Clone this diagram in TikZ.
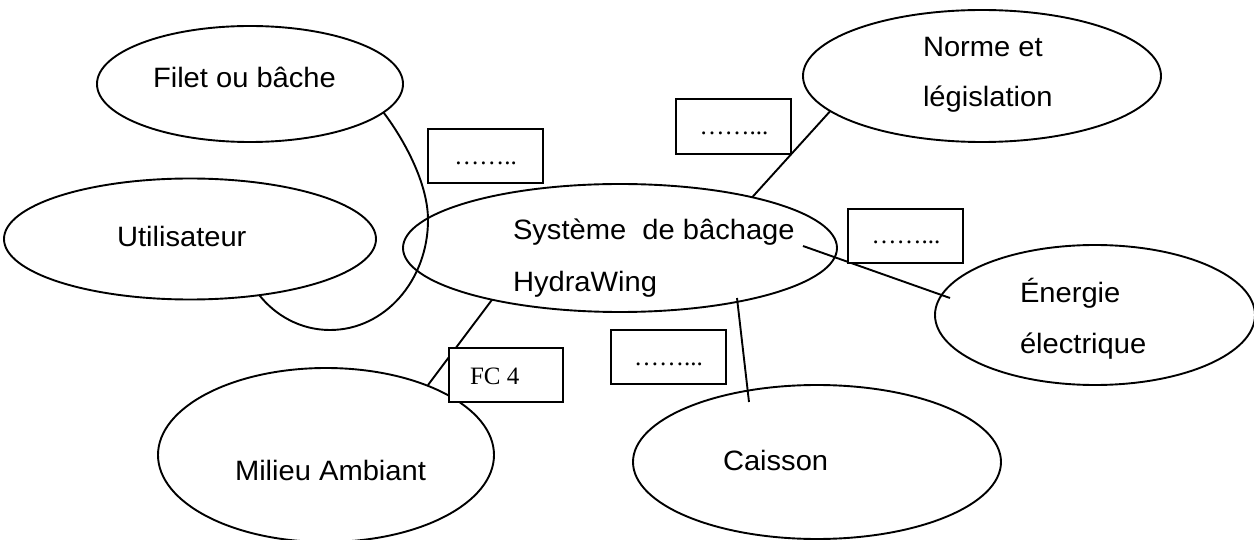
\documentclass[tikz,border=0pt]{standalone}
\usepackage{fontspec}
\setmainfont{Liberation Sans}[FakeStretch=1.04]
\newfontfamily\tms{Liberation Serif}
\usetikzlibrary{shapes.geometric}
\begin{document}
\begin{tikzpicture}[x=1pt,y=-1pt,
  every node/.style={inner sep=0pt, outer sep=0pt},
  oval/.style={draw, ellipse, line width=1.9pt},
  lbl/.style={anchor=base west, font=\fontsize{28}{32}\selectfont},
  box/.style={draw, rectangle, fill=white, line width=1.9pt},
  dotstxt/.style={anchor=base, font=\tms\fontsize{25}{30}\selectfont},
  link/.style={line width=1.9pt}]
\useasboundingbox (0,0) rectangle (1254,540);

% ellipses
\node[oval, minimum width=306pt, minimum height=116pt] (filet) at (250,84) {};
\node[oval, minimum width=372pt, minimum height=121pt] (util) at (190,239) {};
\node[oval, minimum width=434pt, minimum height=128pt] (sys) at (620,248) {};
\node[oval, minimum width=358pt, minimum height=132pt] (norme) at (982,76) {};
\node[oval, minimum width=320pt, minimum height=140pt] (ener) at (1095,315) {};
\node[oval, minimum width=368pt, minimum height=154pt] (caisson) at (817,462) {};
\node[oval, minimum width=336pt, minimum height=174pt] (milieu) at (326,455) {};

% texts
\node[lbl] (filett) at (153,88) {Filet ou bâche};
\node[lbl] (utilt) at (117,247) {Utilisateur};
\node[lbl] (syst1) at (513,240) {Système~ de bâchage};
\node[lbl] (syst2) at (513,292) {HydraWing};
\node[lbl] (normet1) at (923,57) {Norme et};
\node[lbl] (normet2) at (923,107) {législation};
\node[lbl] (enert1) at (1020,303) {Énergie};
\node[lbl] (enert2) at (1020,353) {électrique};
\node[lbl] (caissont) at (723,470) {Caisson};
\node[lbl] (milieut) at (235,480) {Milieu Ambiant};

% connectors
\draw[link] (filet.-12) .. controls (400,134) and (428,180) .. (428,220)
  .. controls (428,280) and (385,330) .. (330,330)
  .. controls (300,330) and (275,315) .. (util.-39);
\draw[link] (sys.21) -- (norme.193);
\coordinate (e1) at (803,246);
\coordinate (e2) at (950,298);
\draw[link] (e1) -- (e2);
\coordinate (c1) at (737,298);
\coordinate (c2) at (749,402);
\draw[link] (c1) -- (c2);
\coordinate (m2) at (428,385);
\draw[link] (sys.-158) -- (m2);

% boxes
\node[box, minimum width=115pt, minimum height=54pt] (b1) at (485.5,156) {};
\node[dotstxt] (b1t) at (485.5,165) {……..};
\node[box, minimum width=115pt, minimum height=55pt] (b2) at (733.5,126.5) {};
\node[dotstxt] (b2t) at (734,135) {……...};
\node[box, minimum width=115pt, minimum height=54pt] (b3) at (905.5,236) {};
\node[dotstxt] (b3t) at (906,244) {……...};
\node[box, minimum width=115pt, minimum height=54pt] (b4) at (668.5,357) {};
\node[dotstxt] (b4t) at (668.5,365) {……...};
\node[box, minimum width=114pt, minimum height=54pt] (fc4) at (506,375) {};
\node[anchor=base west, font=\tms\fontsize{25}{30}\selectfont] (fc4t) at (470,384) {FC 4};
\end{tikzpicture}
\end{document}
